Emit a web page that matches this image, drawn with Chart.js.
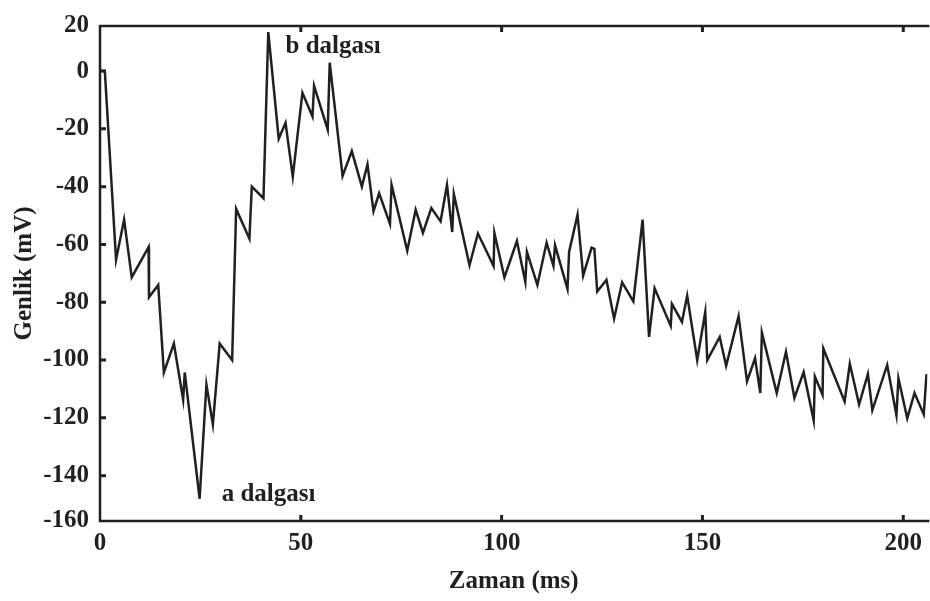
<!DOCTYPE html>
<html>
<head>
<meta charset="utf-8">
<script src="https://cdn.jsdelivr.net/npm/chart.js@4.4.1/dist/chart.umd.min.js"></script>
<style>
  html, body { margin: 0; padding: 0; background: #fff; }
  #wrap { width: 930px; height: 601px; }
</style>
</head>
<body>
<div id="wrap"><canvas id="erg" width="930" height="601"></canvas></div>
<script>
// time (ms) and amplitude (mV)
const timeMs = [
  0, 1.2, 4.0, 6.0, 7.9, 12.1, 12.2, 14.5, 15.9, 18.4,
  20.7, 21.1, 24.8, 26.5, 28.1, 29.8, 32.9, 33.9, 37.2, 37.8,
  40.7, 41.9, 44.5, 46.2, 48.0, 50.4, 52.9, 53.3, 56.7, 57.2,
  60.4, 62.7, 65.2, 66.6, 68.1, 69.5, 72.2, 72.6, 76.5, 78.6,
  80.4, 82.5, 84.8, 86.4, 87.7, 88.1, 92.0, 94.1, 98.0, 98.2,
  100.7, 103.8, 105.9, 106.3, 108.9, 111.2, 112.9, 113.3, 116.4, 116.8,
  118.9, 120.3, 122.4, 123.1, 123.8, 126.1, 128.0, 130.0, 132.8, 135.1,
  136.7, 138.1, 142.1, 142.4, 144.9, 146.2, 148.7, 150.7, 151.2, 154.3,
  155.9, 159.0, 161.1, 163.1, 164.4, 164.8, 168.5, 170.8, 172.9, 175.2,
  177.7, 178.0, 179.9, 180.1, 185.4, 186.7, 189.0, 191.2, 192.3, 196.0,
  198.3, 198.8, 201.0, 202.8, 205.1, 205.8
];
const amplitudeMv = [
  0, 0, -65.3, -51.4, -71.4, -60.9, -78.3, -74.0, -104.3, -94.3,
  -113.7, -104.3, -148.0, -108.5, -122.3, -94.3, -100.0, -47.7, -58.0, -40.0,
  -44.0, 13.5, -23.4, -17.9, -36.5, -7.5, -15.7, -5.1, -20.3, 2.9,
  -36.3, -27.7, -40.0, -32.3, -48.5, -42.3, -52.9, -39.4, -62.2, -48.0,
  -56.0, -47.4, -52.0, -39.4, -55.7, -42.5, -67.2, -56.2, -67.5, -56.0,
  -71.4, -58.8, -72.9, -62.6, -74.0, -59.4, -67.4, -60.3, -75.4, -62.6,
  -49.7, -70.8, -61.1, -61.5, -76.3, -72.3, -85.7, -73.1, -79.7, -51.4,
  -92.0, -75.2, -88.2, -80.6, -86.8, -77.7, -100.0, -83.4, -100.0, -92.0,
  -102.0, -84.8, -107.4, -99.4, -111.4, -90.5, -111.4, -97.1, -113.1, -104.2,
  -120.9, -105.7, -112.0, -96.0, -114.3, -101.3, -115.4, -104.8, -117.4, -101.7,
  -119.1, -106.3, -120.2, -111.4, -118.8, -104.9
];

// axis ticks; the end labels sit on the frame edges
const xTickValues = [0, 50, 100, 150, 200];
const yTickValues = [-155.7, -140, -120, -100, -80, -60, -40, -20, 0, 15.6];
const yTickLabels = ['-160', '-140', '-120', '-100', '-80', '-60', '-40', '-20', '0', '20'];

// wave labels, anchored in data units (left edge, middle)
const waveLabels = [
  { text: 'b dalgası', x: 46.2, y: 8.5 },
  { text: 'a dalgası', x: 30.3, y: -146.5 }
];

const ink = '#231f20';
const serif = '"Liberation Serif", "Times New Roman", serif';

// frame on left / bottom / top, ticks pointing inward, plus wave labels
const framePlugin = {
  id: 'frame',
  afterDraw(chart) {
    const { ctx, chartArea: a, scales: { x, y } } = chart;
    ctx.save();
    ctx.strokeStyle = ink;
    ctx.lineWidth = 2.5;
    ctx.beginPath();
    ctx.moveTo(a.right + 2, a.top);
    ctx.lineTo(a.left, a.top);
    ctx.lineTo(a.left, a.bottom);
    ctx.lineTo(a.right + 2, a.bottom);
    ctx.stroke();

    ctx.lineWidth = 3;
    ctx.beginPath();
    xTickValues.forEach(v => {
      if (v === 0) return;
      const px = x.getPixelForValue(v);
      ctx.moveTo(px, a.bottom);
      ctx.lineTo(px, a.bottom - 6);
      ctx.moveTo(px, a.top);
      ctx.lineTo(px, a.top + 6);
    });
    yTickValues.forEach((v, i) => {
      if (i === 0 || i === yTickValues.length - 1) return;
      const py = y.getPixelForValue(v);
      ctx.moveTo(a.left, py);
      ctx.lineTo(a.left + 6, py);
    });
    ctx.stroke();

    ctx.fillStyle = ink;
    ctx.font = 'bold 25px ' + serif;
    ctx.textAlign = 'left';
    ctx.textBaseline = 'middle';
    waveLabels.forEach(l => {
      ctx.fillText(l.text, x.getPixelForValue(l.x), y.getPixelForValue(l.y));
    });
    ctx.restore();
  }
};

new Chart(document.getElementById('erg').getContext('2d'), {
  type: 'line',
  data: {
    datasets: [{
      data: timeMs.map((t, i) => ({ x: t, y: amplitudeMv[i] })),
      borderColor: ink,
      borderWidth: 2.5,
      pointRadius: 0,
      tension: 0,
      fill: false
    }]
  },
  options: {
    responsive: false,
    animation: false,
    devicePixelRatio: 1,
    layout: { padding: { top: 22, left: 0, right: 0, bottom: 0 } },
    plugins: {
      legend: { display: false },
      tooltip: { enabled: false }
    },
    scales: {
      x: {
        type: 'linear',
        min: 0,
        max: 206,
        grid: { display: false, drawTicks: false },
        border: { display: false },
        afterFit: s => { s.height = 80; },
        afterBuildTicks: s => { s.ticks = xTickValues.map(v => ({ value: v })); },
        ticks: {
          padding: 8,
          color: ink,
          maxRotation: 0,
          font: { family: serif, size: 25, weight: 'bold' }
        },
        title: {
          display: true,
          text: 'Zaman (ms)',
          color: ink,
          padding: { top: 0, bottom: 4 },
          font: { family: serif, size: 25, weight: 'bold' }
        }
      },
      y: {
        min: -155.7,
        max: 15.6,
        grid: { display: false, drawTicks: false },
        border: { display: false },
        afterFit: s => { s.width = 100; },
        afterBuildTicks: s => { s.ticks = yTickValues.map(v => ({ value: v })); },
        ticks: {
          padding: 11,
          color: ink,
          autoSkip: false,
          font: { family: serif, size: 25, weight: 'bold' },
          callback: (v, i) => yTickLabels[i]
        },
        title: {
          display: true,
          text: 'Genlik (mV)',
          color: ink,
          padding: { top: 10, bottom: 0 },
          font: { family: serif, size: 25, weight: 'bold' }
        }
      }
    }
  },
  plugins: [framePlugin]
});
</script>
</body>
</html>
